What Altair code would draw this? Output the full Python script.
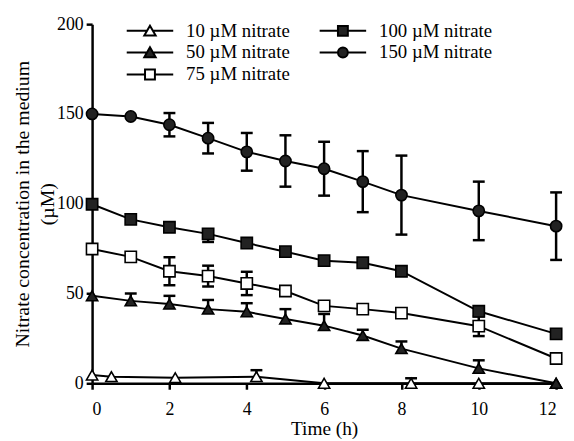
import altair as alt
import pandas as pd

FONT = "Liberation Serif"

series_names = ["10 µM nitrate", "50 µM nitrate", "75 µM nitrate",
                "100 µM nitrate", "150 µM nitrate"]

time_main = [0, 1, 2, 3, 4, 5, 6, 7, 8, 10, 12]
time_10 = [0, 0.5, 2.15, 4.25, 6, 8.25, 10, 12]

conc_10 = [4.6, 3.7, 3.1, 3.7, 0, 0, 0, 0]
errhi_10 = [0, 0, 0, 3.6, 0, 2.8, 0, 0]
errlo_10 = [0, 0, 0, 0, 0, 0, 0, 0]

conc_50 = [48.7, 45.9, 44.1, 41.3, 39.8, 35.8, 32.1, 26.6, 19.3, 8.3, 0]
errhi_50 = [0, 4.1, 4.6, 5.1, 4.8, 5.5, 6.5, 3.2, 4.0, 4.5, 0]
errlo_50 = [0, 0, 0, 0, 0, 0, 0, 0, 0, 0, 0]

conc_75 = [74.8, 70.4, 62.4, 59.7, 55.6, 51.4, 43.1, 41.3, 39.1, 31.8, 13.8]
errhi_75 = [0, 0, 7.8, 5.8, 6.5, 0, 0, 0, 0, 5.5, 0]
errlo_75 = [0, 0, 7.8, 5.8, 6.5, 0, 0, 0, 0, 5.5, 0]

conc_100 = [99.7, 91.3, 86.9, 83.2, 78.1, 73.3, 68.3, 67.1, 62.4, 40.1, 27.5]
errhi_100 = [0, 0, 0, 0, 0, 0, 0, 0, 0, 0, 0]
errlo_100 = [0, 0, 0, 4.5, 0, 0, 0, 0, 0, 0, 0]

conc_150 = [150, 148.6, 144, 136.5, 128.9, 123.8, 119.5, 112.3, 104.8, 96, 87.5]
errhi_150 = [0, 0, 6.5, 8.5, 10.5, 14.3, 15, 17, 22, 16.3, 18.8]
errlo_150 = [0, 0, 6.5, 8.5, 10.5, 14.3, 15, 17, 22, 16.3, 18.8]

x_ticks = [0, 2, 4, 6, 8, 10, 12]
y_ticks = [0, 50, 100, 150, 200]

marker_shapes = ["triangle-up", "triangle-up", "square", "square", "circle"]
marker_fills = ["white", "#222222", "white", "#222222", "#222222"]
marker_strokes = ["black", "black", "black", "black", "black"]

# legend symbols: line segment + marker (unit coordinates)
TRI = "M-4.7,0H-0.6M0.6,0H4.7M0,-1.05L1.15,0.95L-1.15,0.95Z"
SQR = "M-4.7,0H-1M1,0H4.7M-1,-1H1V1H-1Z"
CIR = "M-4.7,0H-1M1,0H4.7M-1,0A1,1,0,1,1,1,0A1,1,0,1,1,-1,0Z"
legend_paths = [TRI, TRI, SQR, SQR, CIR]

all_t = [time_10, time_main, time_main, time_main, time_main]
all_c = [conc_10, conc_50, conc_75, conc_100, conc_150]
all_hi = [errhi_10, errhi_50, errhi_75, errhi_100, errhi_150]
all_lo = [errlo_10, errlo_50, errlo_75, errlo_100, errlo_150]

rows, err_rows, cap_rows = [], [], []
for name, ts, cs, his, los in zip(series_names, all_t, all_c, all_hi, all_lo):
    for t, c, h, l in zip(ts, cs, his, los):
        rows.append({"series": name, "t": t, "c": c})
        if h > 0 or l > 0:
            err_rows.append({"series": name, "t": t, "lo": c - l, "hi": c + h})
        if h > 0:
            cap_rows.append({"series": name, "t": t, "cap": c + h})
        if l > 0:
            cap_rows.append({"series": name, "t": t, "cap": c - l})

df = pd.DataFrame(rows)
df_err = pd.DataFrame(err_rows)
df_cap = pd.DataFrame(cap_rows)

x_scale = alt.Scale(domain=[0, 12], nice=False)
y_scale = alt.Scale(domain=[0, 200], nice=False)

x_enc = alt.X("t:Q", scale=x_scale,
              axis=alt.Axis(values=x_ticks, title="Time (h)", format="d"))
y_enc = alt.Y("c:Q", scale=y_scale,
              axis=alt.Axis(values=y_ticks,
                            title=["Nitrate concentration in the medium", "(µM)"]))

base = alt.Chart(df)

err_rules = alt.Chart(df_err).mark_rule(color="black", strokeWidth=2.5).encode(
    x=alt.X("t:Q", scale=x_scale),
    y=alt.Y("lo:Q", scale=y_scale),
    y2="hi:Q",
)
err_caps = alt.Chart(df_cap).mark_tick(
    color="black", orient="horizontal", size=12, thickness=2.5, opacity=1
).encode(
    x=alt.X("t:Q", scale=x_scale),
    y=alt.Y("cap:Q", scale=y_scale),
)

lines = base.mark_line(color="black", strokeWidth=2).encode(
    x=x_enc, y=y_enc, detail="series:N"
)

points = base.mark_point(stroke="black", strokeWidth=1.6, size=130,
                         opacity=1, fillOpacity=1).encode(
    x=alt.X("t:Q", scale=x_scale),
    y=alt.Y("c:Q", scale=y_scale),
    shape=alt.Shape("series:N", scale=alt.Scale(domain=series_names, range=marker_shapes),
                    legend=None),
    fill=alt.Fill("series:N", scale=alt.Scale(domain=series_names, range=marker_fills),
                  legend=None),
)

leg = alt.Legend(title=None, orient="none", legendX=49, legendY=-3,
                 columns=2, padding=0, symbolSize=100,
                 symbolStrokeColor="black", symbolStrokeWidth=2,
                 labelFont=FONT, labelFontSize=19, labelColor="black",
                 labelOffset=27, rowPadding=2.2, columnPadding=26,
                 labelLimit=300)

legend_layer = base.transform_filter("false").mark_point(
    opacity=1, fillOpacity=1, strokeWidth=2, strokeOpacity=1
).encode(
    x=alt.X("t:Q", scale=x_scale),
    y=alt.Y("c:Q", scale=y_scale),
    shape=alt.Shape("series:N",
                    scale=alt.Scale(domain=series_names, range=legend_paths),
                    legend=leg),
    fill=alt.Fill("series:N",
                  scale=alt.Scale(domain=series_names, range=marker_fills),
                  legend=leg),
    stroke=alt.Stroke("series:N",
                      scale=alt.Scale(domain=series_names, range=marker_strokes),
                      legend=leg),
)

chart = alt.layer(err_rules, err_caps, lines, points, legend_layer).resolve_scale(
    shape="independent", fill="independent", stroke="independent"
).properties(
    width=469, height=363,
    autosize=alt.AutoSizeParams(type="none"),
    padding={"left": 85, "top": 14, "right": 10, "bottom": 56},
).configure_view(stroke=None).configure_axis(
    domainColor="black", domainWidth=2.5, tickColor="black", tickWidth=2.5,
    tickSize=6, grid=False, labelFont=FONT, labelFontSize=18, labelColor="black",
    titleFont=FONT, titleFontSize=19.5, titleColor="black", titleFontWeight="normal",
    labelPadding=3,
).configure_axisX(titlePadding=1, labelPadding=12).configure_axisY(
    titleFontSize=20, titleLineHeight=25, titlePadding=-1
)

chart.save("out.html", embed_options={"renderer": "svg", "actions": False})
